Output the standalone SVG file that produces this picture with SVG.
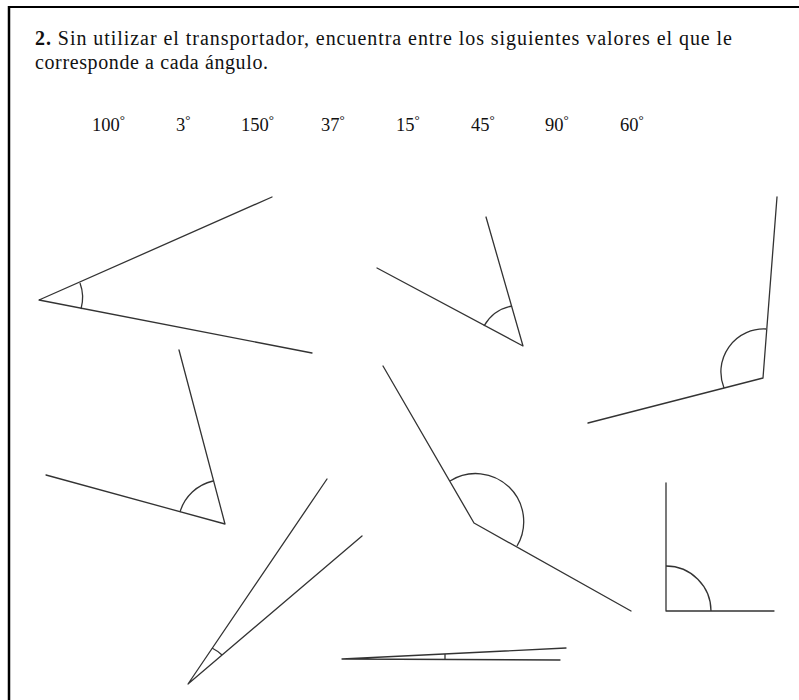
<svg xmlns="http://www.w3.org/2000/svg" width="799" height="700" viewBox="0 0 799 700">
<style>
.t{font-family:"Liberation Serif","Times New Roman",serif;font-size:20px;fill:#111}
.n{font-family:"Liberation Serif","Times New Roman",serif;font-size:18.5px;fill:#111}
.ray{stroke:#333;stroke-width:1.3;fill:none;stroke-linecap:round;stroke-linejoin:round}
.arc{stroke:#333;stroke-width:1.3;fill:none}
</style>
<rect width="799" height="700" fill="#fff"/>
<g id="frame">
<line x1="9" y1="7" x2="799" y2="7" stroke="#000" stroke-width="2"/>
<line x1="9" y1="6" x2="9" y2="700" stroke="#000" stroke-width="2.5"/>
</g>
<g id="statement">
<text class="t" x="35" y="45" textLength="697" lengthAdjust="spacing"><tspan font-weight="bold">2.</tspan> Sin utilizar el transportador, encuentra entre los siguientes valores el que le</text>
<text class="t" x="35" y="69" textLength="233" lengthAdjust="spacing">corresponde a cada ángulo.</text>
</g>
<g id="values">
<text class="n" x="92" y="131">100<tspan font-size="13" dy="-7">°</tspan></text>
<text class="n" x="176" y="131">3<tspan font-size="13" dy="-7">°</tspan></text>
<text class="n" x="241" y="131">150<tspan font-size="13" dy="-7">°</tspan></text>
<text class="n" x="321" y="131">37<tspan font-size="13" dy="-7">°</tspan></text>
<text class="n" x="396" y="131">15<tspan font-size="13" dy="-7">°</tspan></text>
<text class="n" x="471" y="131">45<tspan font-size="13" dy="-7">°</tspan></text>
<text class="n" x="545" y="131">90<tspan font-size="13" dy="-7">°</tspan></text>
<text class="n" x="620" y="131">60<tspan font-size="13" dy="-7">°</tspan></text>
</g>
<g id="angle-37">
<polyline class="ray" points="272,197 39,300 312,353"/>
<path class="arc" d="M80,283 A42,42 0 0 1 81,309"/>
</g>
<g id="angle-45">
<polyline class="ray" points="486,217 523,346 377,268"/>
<path class="arc" d="M512,306 A41,41 0 0 0 484,326"/>
</g>
<g id="angle-100">
<polyline class="ray" points="777,197 763,378 588,423"/>
<path class="arc" d="M766,329 A43,43 0 0 0 724,388"/>
</g>
<g id="angle-60">
<polyline class="ray" points="179,350 225,524 46,475"/>
<path class="arc" d="M213,481 A45,45 0 0 0 180,512"/>
</g>
<g id="angle-150">
<polyline class="ray" points="383,366 474,523 631,611"/>
<path class="arc" d="M450,481 A48,48 0 0 1 517,546"/>
</g>
<g id="angle-90">
<polyline class="ray" points="666,483 666,611 774,611"/>
<path class="arc" d="M666,566 A45,45 0 0 1 711,611"/>
</g>
<g id="angle-15">
<polyline class="ray" points="327,479 188,684 362,536"/>
<path class="arc" d="M212,648 A44,44 0 0 1 222,655"/>
</g>
<g id="angle-3">
<polyline class="ray" points="566,648 342,659 560,660"/>
<line class="arc" x1="445" y1="654" x2="445" y2="659.5"/>
</g>
</svg>
